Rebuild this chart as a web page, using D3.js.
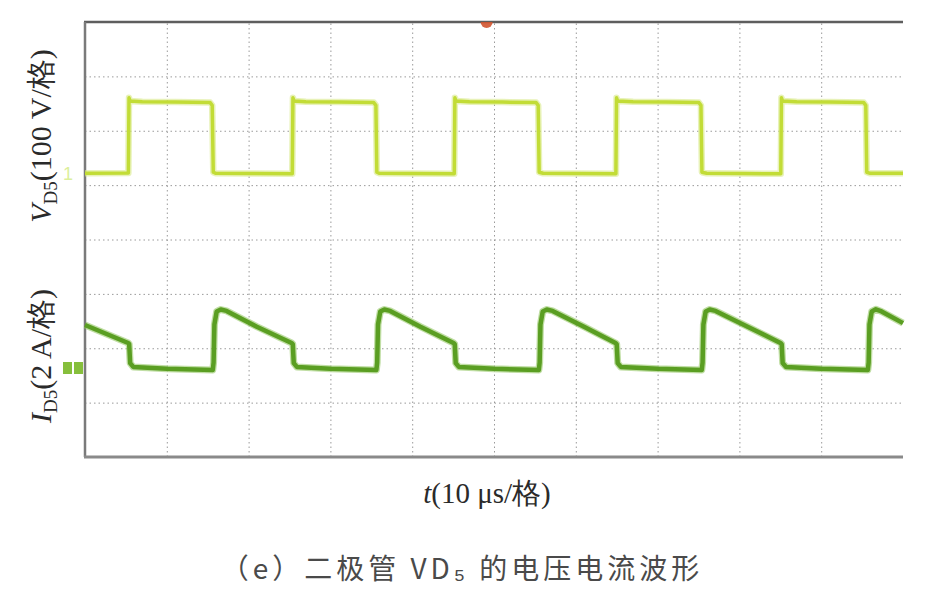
<!DOCTYPE html>
<html>
<head>
<meta charset="utf-8">
<script src="https://cdn.jsdelivr.net/npm/d3@7"></script>
<style>
  html, body { margin: 0; padding: 0; background: #ffffff; }
  svg { display: block; }
</style>
</head>
<body>
<svg id="chart" width="946" height="597"></svg>
<script>
// ---------------- data ----------------
// time grid: 10 divisions of 10 µs
const timeTicks = [10, 20, 30, 40, 50, 60, 70, 80, 90];
// vertical grid: 8 divisions
const divTicks = [1, 2, 3, 4, 5, 6, 7];

// V_D5 trace (µs, V) — 100 V/div
const vdsTime = [0, 5.30, 5.38, 5.52, 7.0, 11.0, 15.30, 15.55, 15.68, 16.0, 20.0,
                 25.34, 25.42, 25.56, 27.0, 31.0, 35.30, 35.56, 35.68, 36.0, 40.0,
                 45.14, 45.22, 45.36, 47.0, 51.0, 55.15, 55.40, 55.52, 56.0, 60.0,
                 64.90, 64.98, 65.12, 67.0, 71.0, 75.05, 75.30, 75.42, 76.0, 80.0,
                 85.06, 85.14, 85.28, 87.0, 91.0, 95.20, 95.45, 95.57, 96.0, 100];
const vdsVolt = [0, 0.5, 139, 133, 131.5, 131, 130, 125, 2, 0, -0.5,
                 -1, 139, 133, 131.5, 131, 130, 125, 2, 0, -0.5,
                 -1, 139, 133, 131.5, 131, 130, 125, 2, 0, -0.5,
                 -1, 139, 133, 131.5, 131, 130, 125, 2, 0, -0.5,
                 -1, 139, 133, 131.5, 131, 130, 125, 2, 0, 0];

// I_D5 trace (µs, A) — 2 A/div
const idsTime = [0, 5.28, 5.40, 5.52, 5.9, 10.0, 15.62, 15.72, 15.82, 16.1, 16.6, 17.3, 21.0, 25.25,
                 25.40, 25.52, 25.9, 30.0, 35.62, 35.72, 35.82, 36.1, 36.6, 37.3, 41.0, 45.05,
                 45.20, 45.32, 45.7, 50.0, 55.48, 55.58, 55.68, 55.96, 56.46, 57.16, 61.0, 64.85,
                 65.00, 65.12, 65.5, 70.0, 75.40, 75.50, 75.60, 75.88, 76.38, 77.08, 81.0, 85.02,
                 85.17, 85.29, 85.7, 90.0, 95.70, 95.80, 95.90, 96.18, 96.68, 97.38, 100];
const idsAmp  = [1.58, 0.92, 0.88, 0.18, 0.04, -0.03, -0.07, 0.2, 1.6, 2.08, 2.15, 2.10, 1.52, 0.92,
                 0.88, 0.18, 0.04, -0.03, -0.07, 0.2, 1.6, 2.08, 2.15, 2.10, 1.52, 0.92,
                 0.88, 0.18, 0.04, -0.03, -0.07, 0.2, 1.6, 2.08, 2.15, 2.10, 1.52, 0.92,
                 0.88, 0.18, 0.04, -0.03, -0.07, 0.2, 1.6, 2.08, 2.15, 2.10, 1.52, 0.92,
                 0.88, 0.18, 0.04, -0.03, -0.07, 0.2, 1.6, 2.08, 2.16, 2.08, 1.65];

const vLabel = { main: "V", sub: "D5", rest: "(100 V/格)" };
const iLabel = { main: "I", sub: "D5", rest: "(2 A/格)" };
const xLabelText = { main: "t", rest: "(10 μs/格)" };
const captionText = "（e）二极管 VD₅ 的电压电流波形";

// ---------------- layout ----------------
const svg = d3.select("#chart");
const L = 85, R = 903, T = 22, B = 457;
const nDivX = 10, nDivY = 8;
const divPx = (B - T) / nDivY;
const vPerDiv = 100, aPerDiv = 2;
const vZeroY = 173.3, iZeroY = 368;

const x = d3.scaleLinear().domain([0, 100]).range([L, R]);
const yDiv = d3.scaleLinear().domain([0, nDivY]).range([B, T]);
const vMin = -(B - vZeroY) / divPx * vPerDiv;
const yV = d3.scaleLinear().domain([vMin, vMin + nDivY * vPerDiv]).range([B, T]);
const iMin = -(B - iZeroY) / divPx * aPerDiv;
const yI = d3.scaleLinear().domain([iMin, iMin + nDivY * aPerDiv]).range([B, T]);

// grid
const gx = svg.append("g").attr("transform", `translate(0,${B})`)
  .call(d3.axisBottom(x).tickValues(timeTicks).tickSize(-(B - T)).tickFormat(""));
const gy = svg.append("g").attr("transform", `translate(${L},0)`)
  .call(d3.axisLeft(yDiv).tickValues(divTicks).tickSize(-(R - L)).tickFormat(""));
[gx, gy].forEach(g => {
  g.select(".domain").remove();
  g.selectAll(".tick line")
    .attr("stroke", "#9a9a9a")
    .attr("stroke-width", 1)
    .attr("stroke-dasharray", "1.5,3");
});

// frame (top, left, bottom)
svg.append("line").attr("x1", L - 1).attr("x2", R).attr("y1", T).attr("y2", T)
  .attr("stroke", "#5e5e5e").attr("stroke-width", 2.5);
svg.append("line").attr("x1", L).attr("x2", L).attr("y1", T).attr("y2", B)
  .attr("stroke", "#7a7a7a").attr("stroke-width", 2.5);
svg.append("line").attr("x1", L - 1).attr("x2", R).attr("y1", B).attr("y2", B)
  .attr("stroke", "#8a8a8a").attr("stroke-width", 3);

// trigger marker
const tx = x(49.1);
svg.append("path")
  .attr("d", `M${tx - 6},${T} A6,6 0 0,0 ${tx + 6},${T} Z`)
  .attr("fill", "#d2542f").attr("opacity", 0.9);

// channel markers
svg.append("text").attr("x", 68).attr("y", vZeroY + 7)
  .attr("text-anchor", "middle").attr("font-family", "Liberation Sans")
  .attr("font-size", 18).attr("fill", "#dcef9c").text("1");
svg.append("rect").attr("x", 63).attr("y", iZeroY - 6).attr("width", 9).attr("height", 12).attr("fill", "#86bf3c");
svg.append("rect").attr("x", 74).attr("y", iZeroY - 6).attr("width", 9).attr("height", 12).attr("fill", "#86bf3c");

// traces
const vData = vdsTime.map((t, i) => [t, vdsVolt[i]]);
const iData = idsTime.map((t, i) => [t, idsAmp[i]]);
const vLine = d3.line().x(d => x(d[0])).y(d => yV(d[1]));
const iLine = d3.line().x(d => x(d[0])).y(d => yI(d[1]));

svg.append("path").datum(vData).attr("d", vLine).attr("fill", "none")
  .attr("stroke", "#d8ea8a").attr("stroke-width", 6.5).attr("stroke-linejoin", "round").attr("opacity", 0.6);
svg.append("path").datum(vData).attr("d", vLine).attr("fill", "none")
  .attr("stroke", "#c2dc36").attr("stroke-width", 3.5).attr("stroke-linejoin", "round");

svg.append("path").datum(iData).attr("d", iLine).attr("fill", "none")
  .attr("stroke", "#8cc25a").attr("stroke-width", 7).attr("stroke-linejoin", "round").attr("opacity", 0.55);
svg.append("path").datum(iData).attr("d", iLine).attr("fill", "none")
  .attr("stroke", "#5a9e22").attr("stroke-width", 4.5).attr("stroke-linejoin", "round");

// axis labels
function rotLabel(lbl, cx, cy) {
  const t = svg.append("text")
    .attr("transform", `translate(${cx},${cy}) rotate(-90)`)
    .attr("text-anchor", "middle")
    .attr("font-family", "Liberation Serif, Times New Roman, serif")
    .attr("font-size", 30).attr("fill", "#2a2a2a");
  t.append("tspan").attr("font-style", "italic").text(lbl.main);
  t.append("tspan").attr("font-size", 19).attr("dy", 6).text(lbl.sub);
  t.append("tspan").attr("dy", -6).text(lbl.rest);
}
rotLabel(vLabel, 51, 136);
rotLabel(iLabel, 51, 356);

const xl = svg.append("text").attr("x", 487).attr("y", 503)
  .attr("text-anchor", "middle")
  .attr("font-family", "Liberation Serif, Times New Roman, serif")
  .attr("font-size", 29).attr("fill", "#2a2a2a");
xl.append("tspan").attr("font-style", "italic").text(xLabelText.main);
xl.append("tspan").text(xLabelText.rest);

svg.append("text").attr("x", 462).attr("y", 579)
  .attr("text-anchor", "middle")
  .attr("font-family", "Noto Sans CJK SC, sans-serif")
  .attr("font-size", 28).attr("letter-spacing", 4).attr("fill", "#4a4a4a")
  .text(captionText);
</script>
</body>
</html>
